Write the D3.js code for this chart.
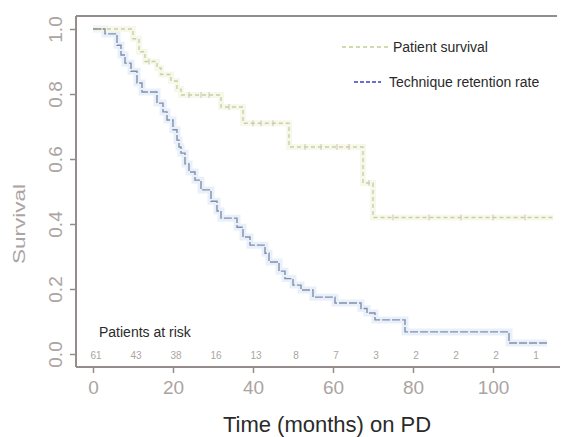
<!DOCTYPE html>
<html>
<head>
<meta charset="utf-8">
<script src="https://cdn.jsdelivr.net/npm/d3@7"></script>
<style>
  body { margin: 0; background: #fff; }
  svg { font-family: "Liberation Sans", Arial, sans-serif; }
</style>
</head>
<body>
<div id="wrapper"></div>
<script>
// Kaplan-Meier steps: [time in months, survival after the drop]
const techniqueSteps = [
  [0, 1.0], [3, 0.985], [6, 0.95], [7, 0.92], [8, 0.895], [9.5, 0.87], [11, 0.834],
  [12.25, 0.806], [16, 0.772], [17.5, 0.745], [18.5, 0.72], [20, 0.69], [21, 0.658],
  [21.5, 0.637], [22, 0.618], [23, 0.585], [24, 0.56], [25.5, 0.535], [27, 0.505],
  [29.5, 0.47], [31, 0.44], [32, 0.418], [36, 0.39], [37.5, 0.36], [39.25, 0.335],
  [43, 0.31], [44, 0.283], [46.5, 0.255], [48, 0.232], [50, 0.212], [52, 0.197],
  [55, 0.175], [60.5, 0.157], [67, 0.14], [68.5, 0.126], [70.5, 0.105], [78, 0.068],
  [104, 0.034], [113.5, 0.034]
];
const survivalSteps = [
  [0, 1.0], [10, 0.97], [11.5, 0.93], [13, 0.9], [16, 0.88], [17, 0.86], [19.5, 0.84],
  [21, 0.815], [22, 0.797], [32, 0.76], [37.5, 0.71], [49, 0.637], [67.5, 0.526],
  [70, 0.42], [115, 0.42]
];
// censored observations on the patient survival curve
const survivalCensored = [14, 24, 27, 29, 34, 40, 42, 45, 53, 57, 61, 64, 69, 75, 84, 92, 100, 108];

const riskTimes = [0, 10, 20, 30, 40, 50, 60, 70, 80, 90, 100, 110];
const riskCounts = [61, 43, 38, 16, 13, 8, 7, 3, 2, 2, 2, 1];

const xTicks = [0, 20, 40, 60, 80, 100];
const yTicks = [0, 0.2, 0.4, 0.6, 0.8, 1.0];

const legendItems = [
  { label: "Patient survival", color: "#bcd193", dash: "4,3" },
  { label: "Technique retention rate", color: "#3b3fc4", dash: "4,2" },
];

const width = 567, height = 437;
const plot = { left: 76, top: 16, right: 557, bottom: 367 };
const axisColor = "#958d8c";
const labelColor = "#aca4a2";

const svg = d3.select("#wrapper").append("svg")
  .attr("width", width)
  .attr("height", height);

const x = d3.scaleLinear().domain([-4.25, 116]).range([plot.left, plot.right]);
const y = d3.scaleLinear().domain([-0.04, 1.04]).range([plot.bottom, plot.top]);

// frame: top line across the plot
svg.append("line")
  .attr("x1", plot.left).attr("x2", plot.right)
  .attr("y1", plot.top).attr("y2", plot.top)
  .attr("stroke", axisColor).attr("stroke-width", 2);

// axes
const yAxis = d3.axisLeft(y).tickValues(yTicks).tickSize(6).tickFormat(d3.format(".1f"));
const gy = svg.append("g")
  .attr("transform", `translate(${plot.left},0)`)
  .call(yAxis);
gy.select(".domain").attr("stroke", axisColor).attr("stroke-width", 2)
  .attr("d", `M0,${plot.top}V${plot.bottom}`);
gy.selectAll(".tick line").attr("stroke", axisColor).attr("stroke-width", 1.5);
gy.selectAll(".tick text")
  .attr("fill", labelColor)
  .attr("font-size", 19)
  .attr("text-anchor", "middle")
  .attr("x", 0).attr("dy", 0)
  .attr("transform", "translate(-14,0) rotate(-90)");

const xAxis = d3.axisBottom(x).tickValues(xTicks).tickSize(6).tickFormat(d3.format("d"));
const gx = svg.append("g")
  .attr("transform", `translate(0,${plot.bottom})`)
  .call(xAxis);
gx.select(".domain").attr("stroke", axisColor).attr("stroke-width", 2)
  .attr("d", `M${plot.left},0H${plot.right + 3}`);
gx.selectAll(".tick line").attr("stroke", axisColor).attr("stroke-width", 1.5);
gx.selectAll(".tick text")
  .attr("fill", labelColor)
  .attr("font-size", 19)
  .attr("y", 14).attr("dy", "0.71em");

// axis titles
svg.append("text")
  .attr("transform", `translate(25,${(y(0.25) + y(0.55)) / 2}) rotate(-90)`)
  .attr("text-anchor", "middle")
  .attr("fill", labelColor)
  .attr("font-size", 16)
  .attr("textLength", 80)
  .attr("lengthAdjust", "spacingAndGlyphs")
  .text("Survival");

svg.append("text")
  .attr("x", 327).attr("y", 432)
  .attr("text-anchor", "middle")
  .attr("fill", "#2a2a2a")
  .attr("font-size", 22)
  .text("Time (months) on PD");

// step curves
const step = d3.line()
  .x(d => x(d[0]))
  .y(d => y(d[1]))
  .curve(d3.curveStepAfter);

// soft halos under the curves
svg.append("path")
  .attr("d", step(techniqueSteps))
  .attr("fill", "none")
  .attr("stroke", "#e2edf9")
  .attr("stroke-width", 7)
  .attr("opacity", 0.8);
svg.append("path")
  .attr("d", step(survivalSteps))
  .attr("fill", "none")
  .attr("stroke", "#f6f5e6")
  .attr("stroke-width", 6)
  .attr("opacity", 0.8);

svg.append("path")
  .attr("d", step(survivalSteps))
  .attr("fill", "none")
  .attr("stroke", "#c3d3a0")
  .attr("stroke-width", 1.4)
  .attr("stroke-dasharray", "4,3");

// censor ticks on patient survival
const survivalAt = t => {
  let s = survivalSteps[0][1];
  survivalSteps.forEach(d => { if (d[0] <= t) s = d[1]; });
  return s;
};
svg.selectAll(".censor")
  .data(survivalCensored)
  .join("line")
    .attr("class", "censor")
    .attr("x1", d => x(d)).attr("x2", d => x(d))
    .attr("y1", d => y(survivalAt(d)) - 3)
    .attr("y2", d => y(survivalAt(d)) + 3)
    .attr("stroke", "#cfc6b6")
    .attr("stroke-width", 1);

svg.append("path")
  .attr("d", step(techniqueSteps))
  .attr("fill", "none")
  .attr("stroke", "#858cab")
  .attr("stroke-width", 1.4)
  .attr("stroke-dasharray", "8,2");

// legend
const legend = svg.append("g");
legend.selectAll("line")
  .data(legendItems)
  .join("line")
    .attr("x1", (d, i) => i === 0 ? 342 : 354)
    .attr("x2", (d, i) => i === 0 ? 388 : 381)
    .attr("y1", (d, i) => 47 + i * 35)
    .attr("y2", (d, i) => 47 + i * 35)
    .attr("stroke", d => d.color)
    .attr("stroke-width", 1.3)
    .attr("stroke-dasharray", d => d.dash);
legend.selectAll("text")
  .data(legendItems)
  .join("text")
    .attr("x", (d, i) => i === 0 ? 393 : 389)
    .attr("y", (d, i) => 52 + i * 35)
    .attr("fill", "#2a2a2a")
    .attr("font-size", 14)
    .text(d => d.label);

// patients at risk
svg.append("text")
  .attr("x", 99).attr("y", 337)
  .attr("fill", "#2a2a2a")
  .attr("font-size", 14)
  .text("Patients at risk");

svg.selectAll(".risk")
  .data(riskTimes)
  .join("text")
    .attr("class", "risk")
    .attr("x", d => x(d) + 3)
    .attr("y", 359)
    .attr("text-anchor", "middle")
    .attr("fill", labelColor)
    .attr("font-size", 10)
    .text((d, i) => riskCounts[i]);
</script>
</body>
</html>
